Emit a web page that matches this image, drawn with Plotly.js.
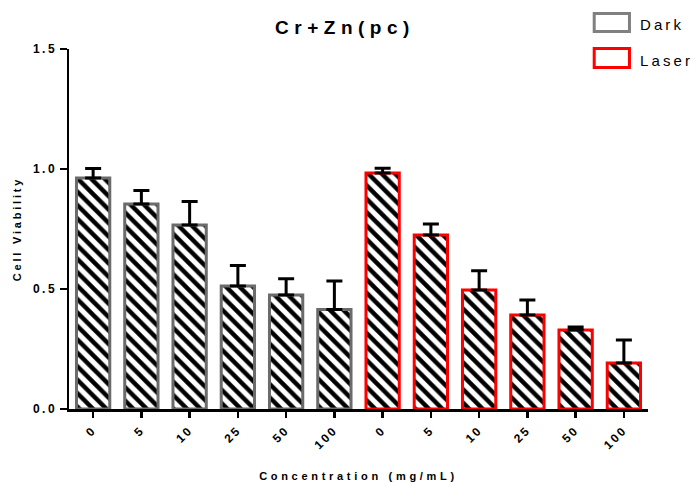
<!DOCTYPE html>
<html>
<head>
<meta charset="utf-8">
<script src="https://cdn.plot.ly/plotly-3.0.1.min.js"></script>
<style>
  html, body { margin: 0; padding: 0; background: #fff; }
  #chart { width: 695px; height: 482px; }
  .gtitle { letter-spacing: 5.5px; }
  .xtitle { letter-spacing: 3.7px; }
  .ytitle { letter-spacing: 2.8px; }
  .xtick text, .ytick text { letter-spacing: 2.5px; }
  .annotation-text { letter-spacing: 3.1px; }
</style>
</head>
<body>
<div id="chart"></div>
<script>
// ---- data ----
const concentrations = ['0', '5', '10', '25', '50', '100'];
const darkMean  = [0.962, 0.854, 0.767, 0.513, 0.475, 0.415];
const darkErr   = [0.040, 0.056, 0.098, 0.085, 0.068, 0.118];
const laserMean = [0.983, 0.725, 0.496, 0.392, 0.329, 0.192];
const laserErr  = [0.020, 0.046, 0.080, 0.062, 0.013, 0.096];
const seriesNames = ['Dark', 'Laser'];
const chartTitle = 'Cr+Zn(pc)';
const xTitle = 'Concentration (mg/mL)';
const yTitle = 'Cell Viability';

// category positions: Dark group first, Laser group after it
const darkX  = concentrations.map((_, i) => i);
const laserX = concentrations.map((_, i) => i + concentrations.length);
const allTicks = darkX.concat(laserX);
const allTickText = concentrations.concat(concentrations);

const hatch = { shape: '\\', fgcolor: '#000000', bgcolor: '#ffffff', size: 9.5, solidity: 0.47, fillmode: 'replace' };

function barTrace(name, xs, ys, errs, lineColor) {
  return {
    type: 'bar', name: name, x: xs, y: ys, width: 0.69,
    marker: { color: '#ffffff', line: { color: lineColor, width: 3 }, pattern: hatch },
    error_y: { type: 'data', symmetric: false, array: errs, arrayminus: errs.map(() => 0),
               color: '#000000', thickness: 3, width: 8 },
    showlegend: false, hoverinfo: 'x+y'
  };
}

const traces = [
  barTrace(seriesNames[0], darkX, darkMean, darkErr, '#6b6b6b'),
  barTrace(seriesNames[1], laserX, laserMean, laserErr, '#ff0000')
];

const boldFont = { family: 'Liberation Sans, Arial, sans-serif', color: '#000000', weight: 'bold' };

const layout = {
  width: 695, height: 482,
  margin: { l: 69, r: 47, t: 49, b: 73, pad: 0 },
  paper_bgcolor: '#ffffff', plot_bgcolor: '#ffffff',
  barmode: 'overlay',
  title: { text: chartTitle, font: Object.assign({ size: 19 }, boldFont),
           xref: 'container', x: 0.4964, xanchor: 'center', yref: 'container', y: 0.944, yanchor: 'middle' },
  xaxis: {
    range: [-0.5, 11.5], tickmode: 'array', tickvals: allTicks, ticktext: allTickText,
    tickangle: -45, ticks: 'outside', ticklen: 6, tickwidth: 2.5, tickcolor: '#000000',
    tickfont: Object.assign({ size: 12 }, boldFont),
    showline: true, linewidth: 3, linecolor: '#000000', showgrid: false, zeroline: false,
    automargin: false,
    title: { text: xTitle, font: Object.assign({ size: 11 }, boldFont), standoff: 22 }
  },
  yaxis: {
    range: [0, 1.5], tickmode: 'array', tickvals: [0, 0.5, 1.0, 1.5], tickformat: '.1f',
    ticks: 'outside', ticklen: 7, tickwidth: 2.5, tickcolor: '#000000',
    tickfont: Object.assign({ size: 12 }, boldFont),
    showline: true, linewidth: 2.5, linecolor: '#000000', showgrid: false, zeroline: false,
    automargin: false,
    title: { text: yTitle, font: Object.assign({ size: 11 }, boldFont), standoff: 9 }
  },
  shapes: [
    { type: 'rect', xref: 'paper', yref: 'paper', x0: 0.9071, x1: 0.968, y0: 1.0486, y1: 1.0986,
      line: { color: '#808080', width: 3 }, fillcolor: '#ffffff' },
    { type: 'rect', xref: 'paper', yref: 'paper', x0: 0.9071, x1: 0.968, y0: 0.9486, y1: 1.0014,
      line: { color: '#ff0000', width: 3 }, fillcolor: '#ffffff' }
  ],
  annotations: [
    { text: seriesNames[0], xref: 'paper', yref: 'paper', x: 0.9828, y: 1.0667, xanchor: 'left', yanchor: 'middle',
      showarrow: false, font: { family: 'Liberation Sans, Arial, sans-serif', size: 15, color: '#000000' } },
    { text: seriesNames[1], xref: 'paper', yref: 'paper', x: 0.9828, y: 0.9694, xanchor: 'left', yanchor: 'middle',
      showarrow: false, font: { family: 'Liberation Sans, Arial, sans-serif', size: 15, color: '#000000' } }
  ],
  showlegend: false
};

Plotly.newPlot('chart', traces, layout, { displayModeBar: false, staticPlot: true });
</script>
</body>
</html>
